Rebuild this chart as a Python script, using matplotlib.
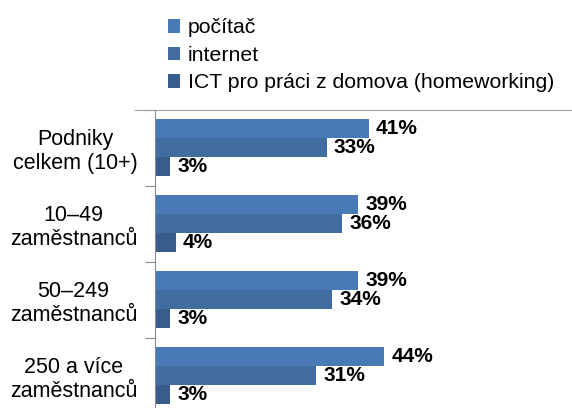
import matplotlib.pyplot as plt
import numpy as np

plt.rcParams['font.family'] = ['Liberation Sans', 'DejaVu Sans']

categories = ['Podniky\ncelkem (10+)', '10–49\nzaměstnanců', '50–249\nzaměstnanců', '250 a více\nzaměstnanců']
series_names = ['počítač', 'internet', 'ICT pro práci z domova (homeworking)']
pocitac = [41, 39, 39, 44]
internet = [33, 36, 34, 31]
homeworking = [3, 4, 3, 3]
colors = ['#4a7ab5', '#416ca0', '#395d8b']

fig = plt.figure(figsize=(5.72, 4.08), dpi=100)
ax = fig.add_axes([0.2705, -0.0147, 0.7295, 0.746])

y = np.arange(len(categories))
h = 0.25
handles = []
for i, (vals, name) in enumerate(zip([pocitac, internet, homeworking], series_names)):
    bars = ax.barh(y + (i - 1) * h, vals, height=h, color=colors[i], label=name)
    ax.bar_label(bars, labels=[f'{v}%' for v in vals], padding=5,
                 fontsize=15, fontweight='bold')
    handles.append(bars)

ax.set_xlim(0, 80)
ax.set_ylim(3.5, -0.5)
ax.set_xticks([])

# category separators as major ticks, names as minor ticks
ax.set_yticks(np.arange(len(categories)) - 0.5)
ax.set_yticklabels([])
ax.set_yticks(y, minor=True)
ax.set_yticklabels(categories, minor=True, fontsize=15.5, multialignment='center', linespacing=1.15)
ax.tick_params(axis='y', which='major', length=7, color='#8c8c8c')
ax.tick_params(axis='y', which='minor', length=0, pad=12.5)

for s in ['right', 'bottom']:
    ax.spines[s].set_visible(False)
ax.spines['left'].set_color('#8c8c8c')
ax.spines['top'].set_color('#a0a0a0')
ax.spines['top'].set_bounds(-3.8, 80)

fig.legend(handles=handles, loc='upper left', bbox_to_anchor=(0.293, 0.955),
           frameon=False, fontsize=15.3, handlelength=0.6, handleheight=0.6,
           handletextpad=0.35, labelspacing=0.4, borderpad=0, borderaxespad=0)

plt.savefig('out.png', dpi=100)
